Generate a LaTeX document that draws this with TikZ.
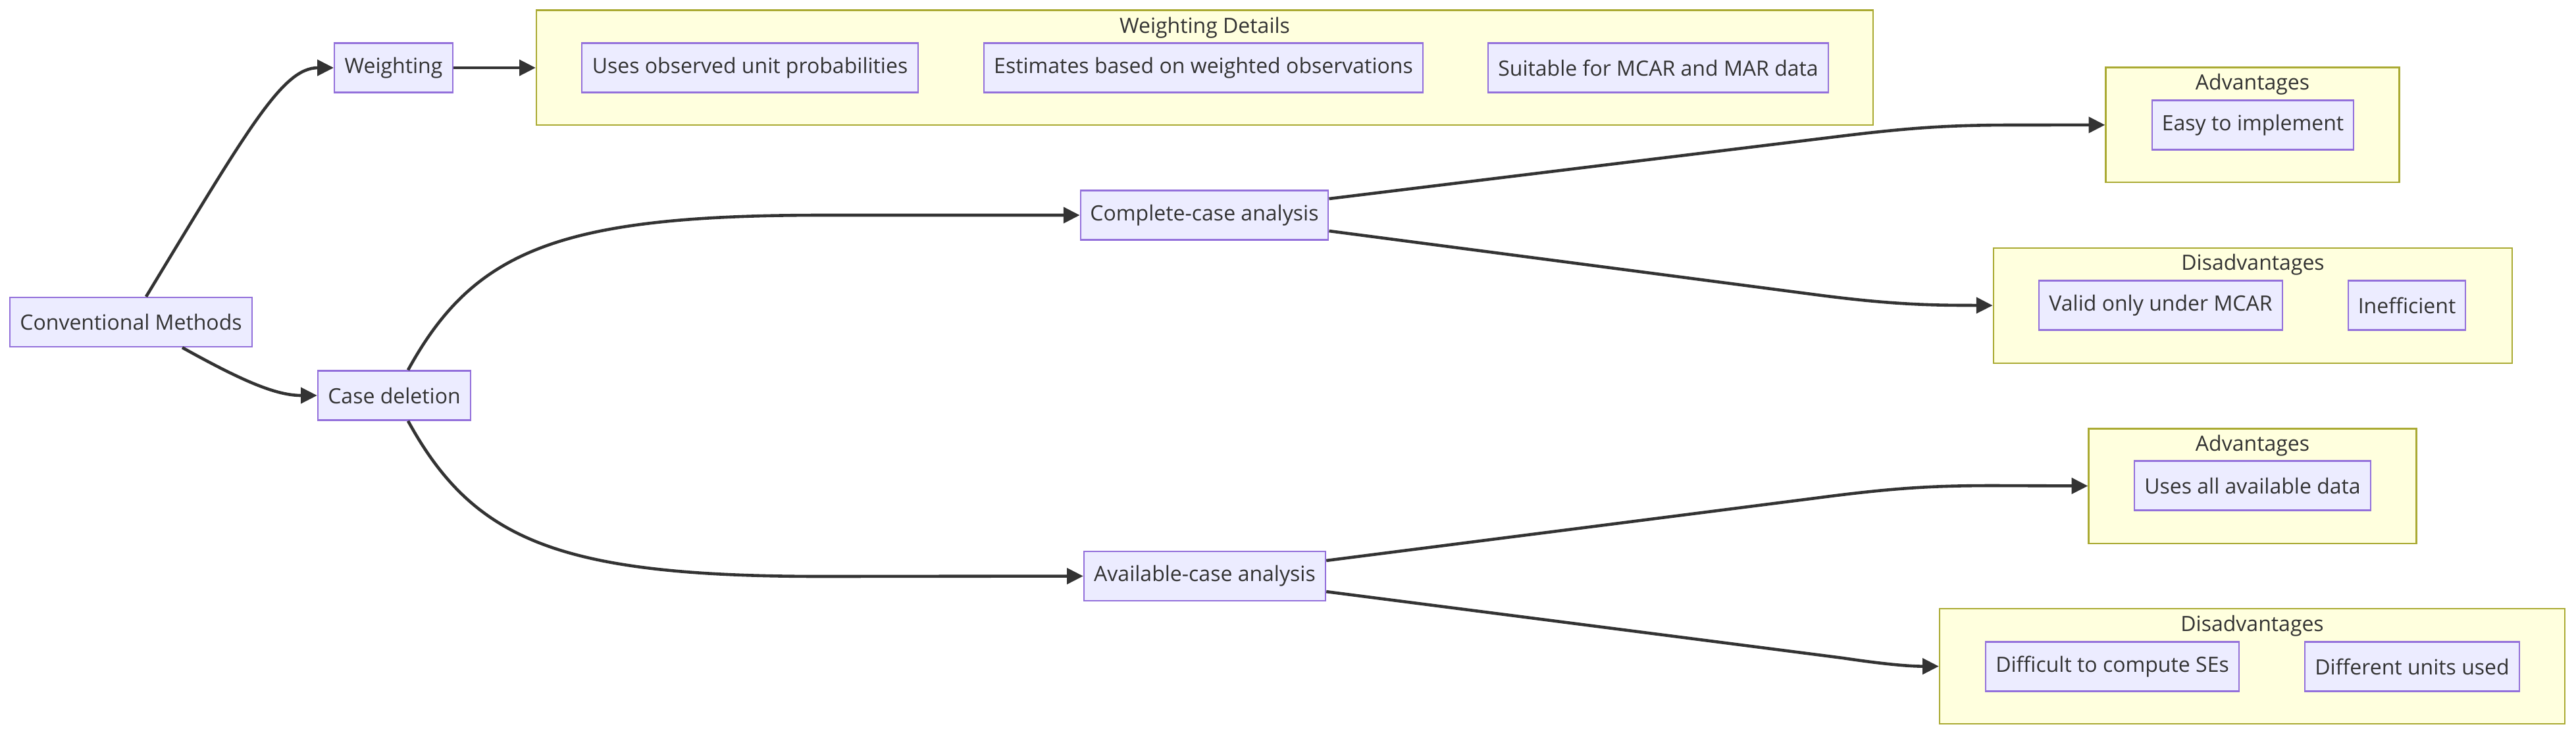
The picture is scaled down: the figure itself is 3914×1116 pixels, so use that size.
\documentclass[tikz,border=0pt]{standalone}
\usepackage{fontspec}
\setmainfont{Open Sans}
\usetikzlibrary{arrows.meta,calc}
\definecolor{nodefill}{HTML}{ECECFF}
\definecolor{nodeline}{HTML}{9370DB}
\definecolor{clfill}{HTML}{FFFFDE}
\definecolor{clline}{HTML}{AAAA33}
\definecolor{edge}{HTML}{333333}
\definecolor{txt}{HTML}{333333}
\tikzset{
  nd/.style={draw=nodeline, fill=nodefill, line width=0.6pt, rectangle, inner sep=0pt,
    minimum height=18.75pt, text=txt, font=\fontsize{8}{10}\selectfont},
  clusterbox/.style={draw=clline, fill=clfill, line width=0.6pt, rectangle, inner sep=0pt},
  cltitle/.style={anchor=base, inner sep=0pt, text=txt, font=\fontsize{8}{10}\selectfont},
  conn/.style={draw=edge, line width=1.15pt, -{Triangle[length=6.2pt,width=6pt]}}
}
\begin{document}
\begin{tikzpicture}[x=0.25pt,y=-0.25pt]
\useasboundingbox (0,0) rectangle (3914,1116);
\fill[white] (0,0) rectangle (3914,1116);

% clusters
\node[clusterbox, minimum width=507.75pt, minimum height=43.6pt] (wd) at (1830.5,102.8) {};
\node[cltitle] (wdt) at (1830.5,50) {Weighting Details};
\node[clusterbox, minimum width=111.5pt, minimum height=43.6pt] (adv1) at (3422.5,189.85) {};
\node[cltitle] (adv1t) at (3422.5,136.7) {Advantages};
\node[clusterbox, minimum width=197.1pt, minimum height=43.75pt] (dis1) at (3423,464.2) {};
\node[cltitle] (dis1t) at (3423,410.7) {Disadvantages};
\node[clusterbox, minimum width=124.5pt, minimum height=43.6pt] (adv2) at (3422.5,738.5) {};
\node[cltitle] (adv2t) at (3422.5,685.3) {Advantages};
\node[clusterbox, minimum width=237.5pt, minimum height=43.7pt] (dis2) at (3422,1012.6) {};
\node[cltitle] (dis2t) at (3422,959.3) {Disadvantages};

% nodes
\node[nd, minimum width=91.9pt] (cm) at (199,489.5) {Conventional Methods};
\node[nd, minimum width=44.9pt] (w) at (598,103) {Weighting};
\node[nd, minimum width=58pt] (cd) at (599,601) {Case deletion};
\node[nd, minimum width=127.75pt] (u1) at (1139.5,103) {Uses observed unit probabilities};
\node[nd, minimum width=166.75pt] (u2) at (1828.5,103) {Estimates based on weighted observations};
\node[nd, minimum width=129.25pt] (u3) at (2519.5,103) {Suitable for MCAR and MAR data};
\node[nd, minimum width=94.1pt] (cc) at (1830,327) {Complete-case analysis};
\node[nd, minimum width=91.75pt] (ac) at (1830.5,875.5) {Available-case analysis};
\node[nd, minimum width=76.5pt] (e1) at (3423,190) {Easy to implement};
\node[nd, minimum width=92.4pt] (v1) at (3283,464) {Valid only under MCAR};
\node[nd, minimum width=44.6pt] (i1) at (3657,464) {Inefficient};
\node[nd, minimum width=89.75pt] (a2) at (3422.5,738) {Uses all available data};
\node[nd, minimum width=96.25pt] (d2) at (3209.5,1013) {Difficult to compute SEs};
\node[nd, minimum width=81.6pt] (d3) at (3665,1013) {Different units used};

% edges
\draw[conn] ([xshift=5.75pt]cm.north) .. controls (380,190) and (430,103) .. (w.west);
\draw[conn] ([xshift=19.5pt]cm.south) .. controls (370,580) and (420,601) .. (cd.west);
\draw[conn] (w.east) -- (wd.west |- w.east);
\draw[conn] ([xshift=5.25pt]cd.north) .. controls (720,380) and (850,327) .. (1250,327) -- (cc.west);
\draw[conn] ([xshift=5.25pt]cd.south) .. controls (720,822) and (850,876) .. (1250,876) -- (ac.west);
\draw[conn] ([yshift=6.25pt]cc.east) -- (2780,209) .. controls (2900,194) and (2960,190) .. (3060,190) -- (adv1.west);
\draw[conn] ([yshift=-6pt]cc.east) -- (2760,448) .. controls (2860,461) and (2920,464) .. (2990,464) -- (dis1.west);
\draw[conn] ([yshift=5.9pt]ac.east) -- (2760,756.8) .. controls (2880,741) and (2940,738) .. (3030,738) -- (adv2.west);
\draw[conn] ([yshift=-5.9pt]ac.east) -- (2800,1000) .. controls (2860,1009) and (2900,1012.6) .. (dis2.west);
\end{tikzpicture}
\end{document}
